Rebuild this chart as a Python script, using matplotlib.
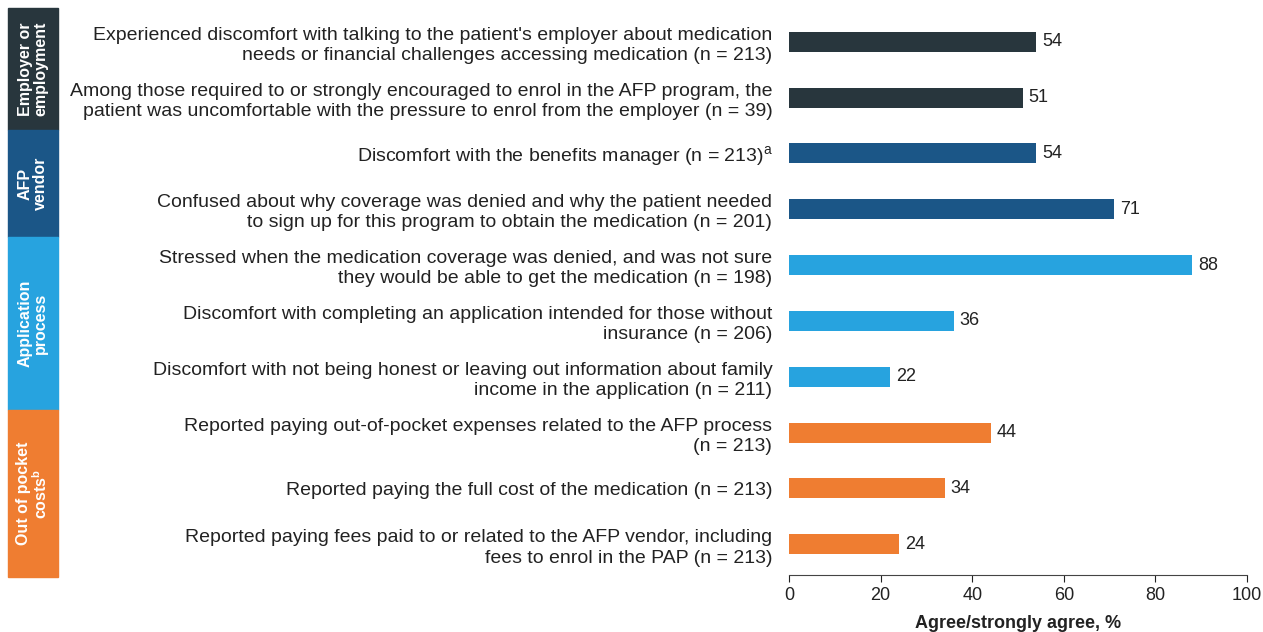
import matplotlib.pyplot as plt
from matplotlib.patches import Rectangle

plt.rcParams['font.family'] = ['Liberation Sans', 'DejaVu Sans']

# data
labels = [
    "Experienced discomfort with talking to the patient's employer about medication\nneeds or financial challenges accessing medication (n = 213)",
    "Among those required to or strongly encouraged to enrol in the AFP program, the\npatient was uncomfortable with the pressure to enrol from the employer (n = 39)",
    "Discomfort with the benefits manager (n = 213)$^\\mathregular{a}$",
    "Confused about why coverage was denied and why the patient needed\nto sign up for this program to obtain the medication (n = 201)",
    "Stressed when the medication coverage was denied, and was not sure\nthey would be able to get the medication (n = 198)",
    "Discomfort with completing an application intended for those without\ninsurance (n = 206)",
    "Discomfort with not being honest or leaving out information about family\nincome in the application (n = 211)",
    "Reported paying out-of-pocket expenses related to the AFP process\n(n = 213)",
    "Reported paying the full cost of the medication (n = 213)",
    "Reported paying fees paid to or related to the AFP vendor, including\nfees to enrol in the PAP (n = 213)",
]
values = [54, 51, 54, 71, 88, 36, 22, 44, 34, 24]
groups = [0, 0, 1, 1, 2, 2, 2, 3, 3, 3]
group_names = ["Employer or\nemployment", "AFP\nvendor", "Application\nprocess", "Out of pocket\ncosts$^\\mathregular{b}$"]
colors = ["#28363d", "#1b5687", "#27a3df", "#ef7d31"]

W, H = 1263, 632
fig = plt.figure(figsize=(W / 100, H / 100), dpi=100)
ax = fig.add_axes([789 / W, 1 - 575 / H, (1247 - 789) / W, (575 - 11) / H])

ypos = list(range(len(values)))
ax.barh(ypos, values, height=0.36, color=[colors[g] for g in groups])
for y, v in zip(ypos, values):
    ax.text(v + 1.3, y, str(v), va='center', ha='left', fontsize=13, color='#222222')

ax.set_ylim(len(values) - 0.45, -0.55)
ax.set_xlim(0, 100)
ax.set_yticks(ypos)
ax.set_yticklabels(labels, fontsize=14, color='#222222', linespacing=1.25)
ax.tick_params(axis='y', length=0, pad=12)
ax.set_xticks([0, 20, 40, 60, 80, 100])
ax.tick_params(axis='x', labelsize=13, colors='#222222', length=5)
ax.set_xlabel("Agree/strongly agree, %", fontsize=13, fontweight='bold', color='#222222', labelpad=8)
for s in ['top', 'right', 'left']:
    ax.spines[s].set_visible(False)
ax.spines['bottom'].set_color('#444444')
for t in ax.get_yticklabels():
    t.set_ha('right')
    t.set_multialignment('right')

# side group boxes (pixel extents)
box_px = [(8, 130), (130, 237), (237, 410), (410, 577)]
for (top, bot), name, c in zip(box_px, group_names, colors):
    fig.patches.append(Rectangle((8 / W, 1 - bot / H), 50 / W, (bot - top) / H,
                                 transform=fig.transFigure, color=c))
    fig.text(33 / W, 1 - (top + bot) / 2 / H, name, rotation=90, ha='center', va='center',
             color='white', fontsize=11.5, fontweight='bold', linespacing=1.0)

fig.savefig("out.png", dpi=100)
